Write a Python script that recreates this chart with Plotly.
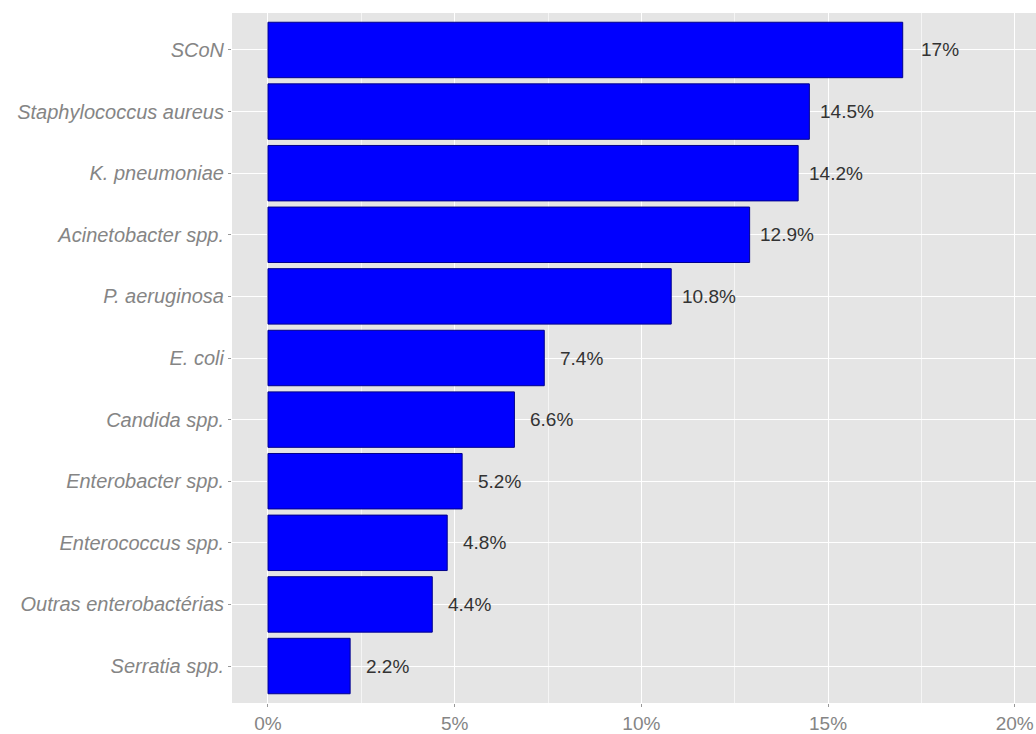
import plotly.graph_objects as go

categories = ["SCoN", "Staphylococcus aureus", "K. pneumoniae", "Acinetobacter spp.",
              "P. aeruginosa", "E. coli", "Candida spp.", "Enterobacter spp.",
              "Enterococcus spp.", "Outras enterobactérias", "Serratia spp."]
values = [17, 14.5, 14.2, 12.9, 10.8, 7.4, 6.6, 5.2, 4.8, 4.4, 2.2]
labels = ["17%", "14.5%", "14.2%", "12.9%", "10.8%", "7.4%", "6.6%", "5.2%", "4.8%", "4.4%", "2.2%"]
x_ticks = [0, 5, 10, 15, 20]
x_tick_labels = ["0%", "5%", "10%", "15%", "20%"]

fig = go.Figure()
fig.add_trace(go.Bar(
    x=values, y=categories, orientation="h", width=0.9,
    marker=dict(color="#0000FF", line=dict(color="#00008B", width=1)),
    hoverinfo="x+y",
))

for c, v, t in zip(categories, values, labels):
    fig.add_annotation(x=v + 1, y=c, text=t, showarrow=False, xanchor="center",
                       yanchor="middle", font=dict(family="Liberation Sans, Arial", size=19, color="#333333"))

fig.update_layout(
    width=1036, height=734,
    margin=dict(l=232, r=0, t=13, b=31),
    paper_bgcolor="white", plot_bgcolor="#E5E5E5",
    showlegend=False,
    font=dict(family="Liberation Sans, Arial", size=19, color="#808080"),
)
fig.update_xaxes(
    range=[-0.964, 20.57], tickvals=x_ticks, ticktext=x_tick_labels,
    showgrid=True, gridcolor="white", gridwidth=1.3, zeroline=False,
    ticks="outside", ticklen=3, tickcolor="#999", tickwidth=1,
    tickfont=dict(size=19, color="#858585"),
    minor=dict(tickvals=[2.5, 7.5, 12.5, 17.5], showgrid=True, gridcolor="#F5F5F5", gridwidth=0.6, ticks=""),
    showline=False,
)
fig.update_yaxes(
    categoryorder="array", categoryarray=list(reversed(categories)),
    range=[-0.6, 10.6], showgrid=True, gridcolor="white", gridwidth=1.3,
    ticks="outside", ticklen=3, tickcolor="#999", tickwidth=1,
    tickfont=dict(size=20, color="#858585", style="italic"),
    zeroline=False, showline=False,
)

fig.write_html("out.html")
